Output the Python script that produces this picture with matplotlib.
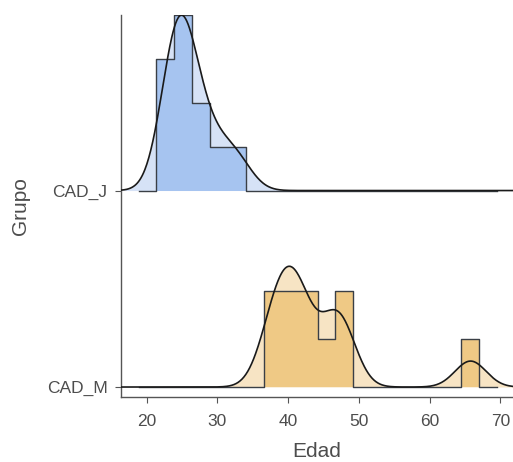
import numpy as np
import matplotlib.pyplot as plt

plt.rcParams["font.family"] = ["Liberation Sans", "DejaVu Sans"]

# Datos (edades estimadas por grupo)
grupos = ["CAD_M", "CAD_J"]
edad_j = [23.3, 23.7, 23.9, 24.4, 24.9, 25.3, 25.8, 26.9, 28.2, 30.5, 33.0]
edad_m = [37.4, 38.6, 39.5, 40.5, 41.7, 42.2, 45.9, 47.0, 48.1, 65.8]
xticks = [20, 30, 40, 50, 60, 70]

bin_start = 18.87
bin_width = 2.53
n_bins = 20
bw = 2.2
escala = 0.893

colores_hist = {"CAD_J": "#a6c4f0", "CAD_M": "#efc985"}
colores_dens = {"CAD_J": "#d6e2f6", "CAD_M": "#f7e4c4"}

xlim = (16.34, 71.8)
edges = bin_start + bin_width * np.arange(n_bins + 1)
grid = np.linspace(xlim[0], xlim[1], 600)

def kde(vals, x, h):
    v = np.asarray(vals)[:, None]
    return np.exp(-0.5 * ((x[None, :] - v) / h) ** 2).sum(axis=0) / (len(vals) * h * np.sqrt(2 * np.pi))

datos = {"CAD_J": edad_j, "CAD_M": edad_m}
dens = {g: kde(datos[g], grid, bw) for g in grupos}
hist = {g: np.histogram(datos[g], bins=edges)[0] / (len(datos[g]) * bin_width) for g in grupos}
max_d = max(d.max() for d in dens.values())
max_h = max(h.max() for h in hist.values())

fig = plt.figure(figsize=(5.13, 4.62), dpi=100)
ax = fig.add_axes([120.7 / 513, 1 - 397 / 462, 1 - 120.7 / 513, (397 - 15) / 462])

for i, g in enumerate(grupos):
    base = i + 1
    d = dens[g] / max_d * escala
    ax.fill_between(grid, base, base + d, color=colores_dens[g], lw=0, zorder=1 + i * 4)
    h = hist[g] / max_h * escala
    xs = np.repeat(edges, 2)[1:-1]
    ys = np.repeat(h, 2)
    ax.fill_between(xs, base, base + ys, color=colores_hist[g], lw=0, zorder=2 + i * 4)
    ax.plot(np.r_[edges[0], xs, edges[-1]], base + np.r_[0, ys, 0], color="#3a3f46", lw=1.0, zorder=3 + i * 4)
    ax.plot(grid, base + d, color="#1a1a1a", lw=1.2, zorder=4 + i * 4)

ax.set_xlim(*xlim)
ax.set_ylim(1 - 10 / 197, 2 + 176 / 197)
ax.set_xticks(xticks)
ax.set_yticks([1, 2])
ax.set_yticklabels(grupos)
for s in ["top", "right"]:
    ax.spines[s].set_visible(False)
for s in ["left", "bottom"]:
    ax.spines[s].set_color("#555555")
    ax.spines[s].set_linewidth(1.0)
ax.tick_params(colors="#555555", labelcolor="#4d4d4d", labelsize=12.5, length=4.5)
ax.tick_params(axis="x", pad=8)
ax.tick_params(axis="y", pad=5)
ax.set_xlabel("Edad", fontsize=15, color="#4d4d4d", labelpad=9)
ax.set_ylabel("Grupo", fontsize=15, color="#4d4d4d", labelpad=12)

fig.savefig("out.png", dpi=100)
